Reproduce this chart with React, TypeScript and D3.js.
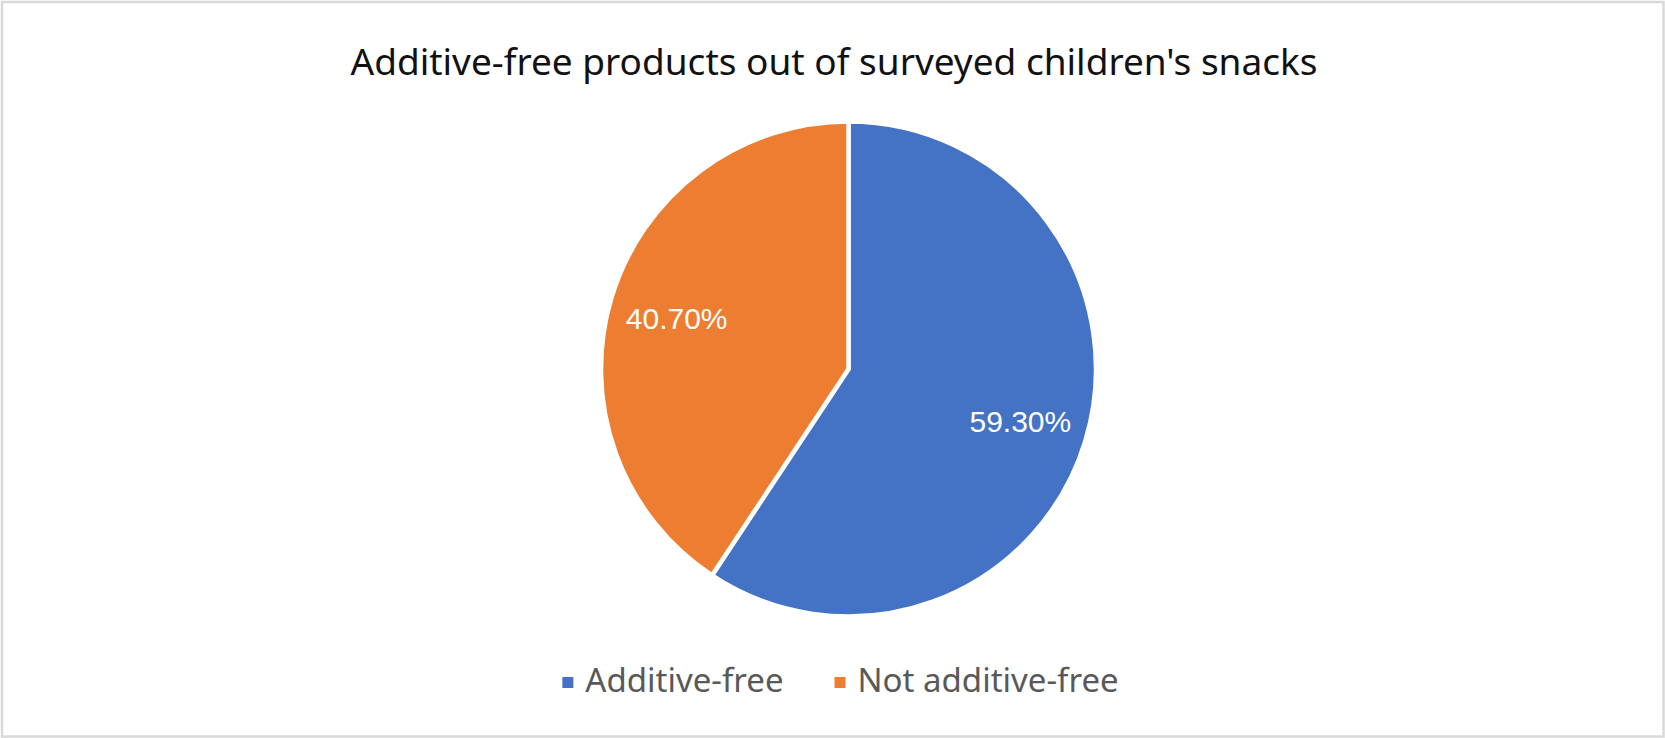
import React, { useEffect, useRef } from "react";
import * as d3 from "d3";

const categories = ["Additive-free", "Not additive-free"];
const values = [59.3, 40.7];
const valueLabels = ["59.30%", "40.70%"];
const colors = ["#4472C4", "#ED7D31"];
const title = "Additive-free products out of surveyed children's snacks";

const W = 1665;
const H = 738;

export default function App() {
  const ref = useRef<SVGSVGElement | null>(null);

  useEffect(() => {
    const svg = d3.select(ref.current);
    svg.selectAll("*").remove();

    svg
      .append("rect")
      .attr("x", 2)
      .attr("y", 2)
      .attr("width", W - 3.5)
      .attr("height", H - 3.5)
      .attr("fill", "#ffffff")
      .attr("stroke", "#d9d9d9")
      .attr("stroke-width", 2.5);

    svg
      .append("text")
      .attr("x", 834)
      .attr("y", 75)
      .attr("text-anchor", "middle")
      .attr("font-family", "'Noto Sans', sans-serif")
      .attr("font-size", 37)
      .attr("fill", "#111111")
      .text(title);

    const cx = 848.5;
    const cy = 369;
    const r = 247.5;

    const data = categories.map((c, i) => ({ c, v: values[i], label: valueLabels[i], color: colors[i] }));
    const pie = d3
      .pie<any>()
      .sort(null)
      .value((d: any) => d.v)
      .startAngle(0)
      .endAngle(2 * Math.PI);
    const arcs = pie(data);
    const arc = d3.arc<any>().innerRadius(0).outerRadius(r);
    const labelArc = d3.arc<any>().innerRadius(r * 0.725).outerRadius(r * 0.725);

    const g = svg.append("g").attr("transform", `translate(${cx},${cy})`);
    g.selectAll("path")
      .data(arcs)
      .enter()
      .append("path")
      .attr("d", arc as any)
      .attr("fill", (d: any) => d.data.color)
      .attr("stroke", "#ffffff")
      .attr("stroke-width", 4.5)
      .attr("stroke-linejoin", "miter");

    g.selectAll("text.lbl")
      .data(arcs)
      .enter()
      .append("text")
      .attr("class", "lbl")
      .attr("transform", (d: any) => {
        const [x, y] = labelArc.centroid(d);
        return `translate(${x},${y})`;
      })
      .attr("text-anchor", "middle")
      .attr("dy", "0.38em")
      .attr("font-family", "'Liberation Sans', Arial, sans-serif")
      .attr("font-size", 30)
      .attr("fill", "#ffffff")
      .text((d: any) => d.data.label);

    // legend
    const lg = svg.append("g");
    const sq = 11;
    const gapSqText = 12;
    const gapItems = 51;
    const legendY = 692;
    const items = data.map((d) => {
      const gi = lg.append("g");
      gi.append("rect")
        .attr("width", sq)
        .attr("height", sq)
        .attr("y", legendY - 15)
        .attr("fill", d.color);
      const t = gi
        .append("text")
        .attr("x", sq + gapSqText)
        .attr("y", legendY)
        .attr("font-family", "'Noto Sans', sans-serif")
        .attr("font-size", 33)
        .attr("fill", "#595959")
        .text(d.c);
      const w = (t.node() as SVGTextElement).getComputedTextLength();
      return { gi, w: sq + gapSqText + w };
    });
    const total = items.reduce((s, it) => s + it.w, 0) + gapItems * (items.length - 1);
    let x = 840.5 - total / 2;
    items.forEach((it) => {
      it.gi.attr("transform", `translate(${x},0)`);
      x += it.w + gapItems;
    });
  }, []);

  return (
    <svg
      ref={ref}
      width={W}
      height={H}
      style={{ position: "absolute", left: 0, top: 0, display: "block" }}
    />
  );
}
